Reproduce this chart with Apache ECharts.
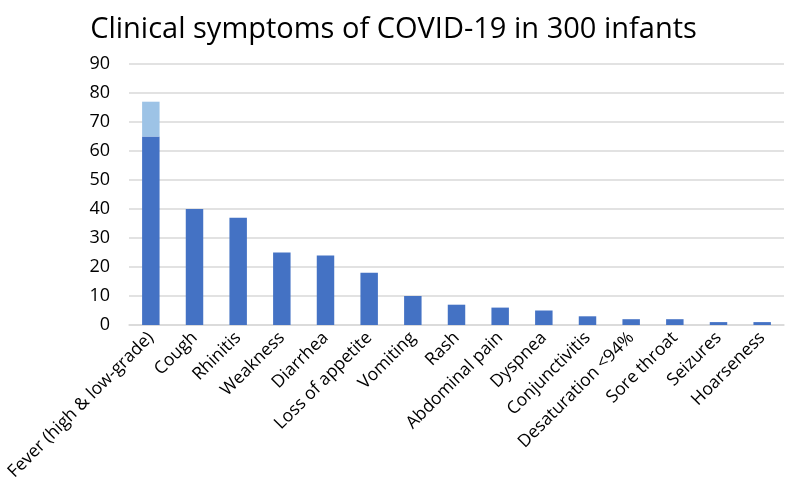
<!DOCTYPE html>
<html><head><meta charset="utf-8">
<script src="https://cdn.jsdelivr.net/npm/echarts@6/dist/echarts.min.js"></script>
<style>html,body{margin:0;padding:0;background:#fff}#c{width:787px;height:499px}</style>
</head><body><div id="c"></div>
<script>
const categories = ["Fever (high & low-grade)","Cough","Rhinitis","Weakness","Diarrhea","Loss of appetite","Vomiting","Rash","Abdominal pain","Dyspnea","Conjunctivitis","Desaturation <94%","Sore throat","Seizures","Hoarseness"];
const mainValues = [65,40,37,25,24,18,10,7,6,5,3,2,2,1,1];
const extraValues = [12,0,0,0,0,0,0,0,0,0,0,0,0,0,0];
const yTicks = {min:0,max:90,interval:10};
const chart = echarts.init(document.getElementById('c'));
chart.setOption({
  animation:false,
  title:{text:"Clinical symptoms of COVID-19 in 300 infants",left:'center',top:10,
    textStyle:{fontFamily:'Open Sans',fontSize:29,fontWeight:'normal',color:'#000'}},
  grid:{left:129,right:3,top:64,bottom:174},
  xAxis:{type:'category',data:categories,
    axisLine:{lineStyle:{color:'#d9d9d9',width:1.5}},axisTick:{show:false},
    axisLabel:{rotate:45,interval:0,fontFamily:'Open Sans',fontSize:17.5,color:'#000',margin:10}},
  yAxis:{type:'value',min:yTicks.min,max:yTicks.max,interval:yTicks.interval,
    axisLine:{show:false},axisTick:{show:false},
    splitLine:{lineStyle:{color:'#d9d9d9',width:1.5}},
    axisLabel:{fontFamily:'Open Sans',fontSize:18,color:'#000',margin:19}},
  series:[
    {type:'bar',stack:'s',data:mainValues,barWidth:'40%',itemStyle:{color:'#4472C4'}},
    {type:'bar',stack:'s',data:extraValues,barWidth:'40%',itemStyle:{color:'#9DC3E6'}}
  ]
});
</script></body></html>
